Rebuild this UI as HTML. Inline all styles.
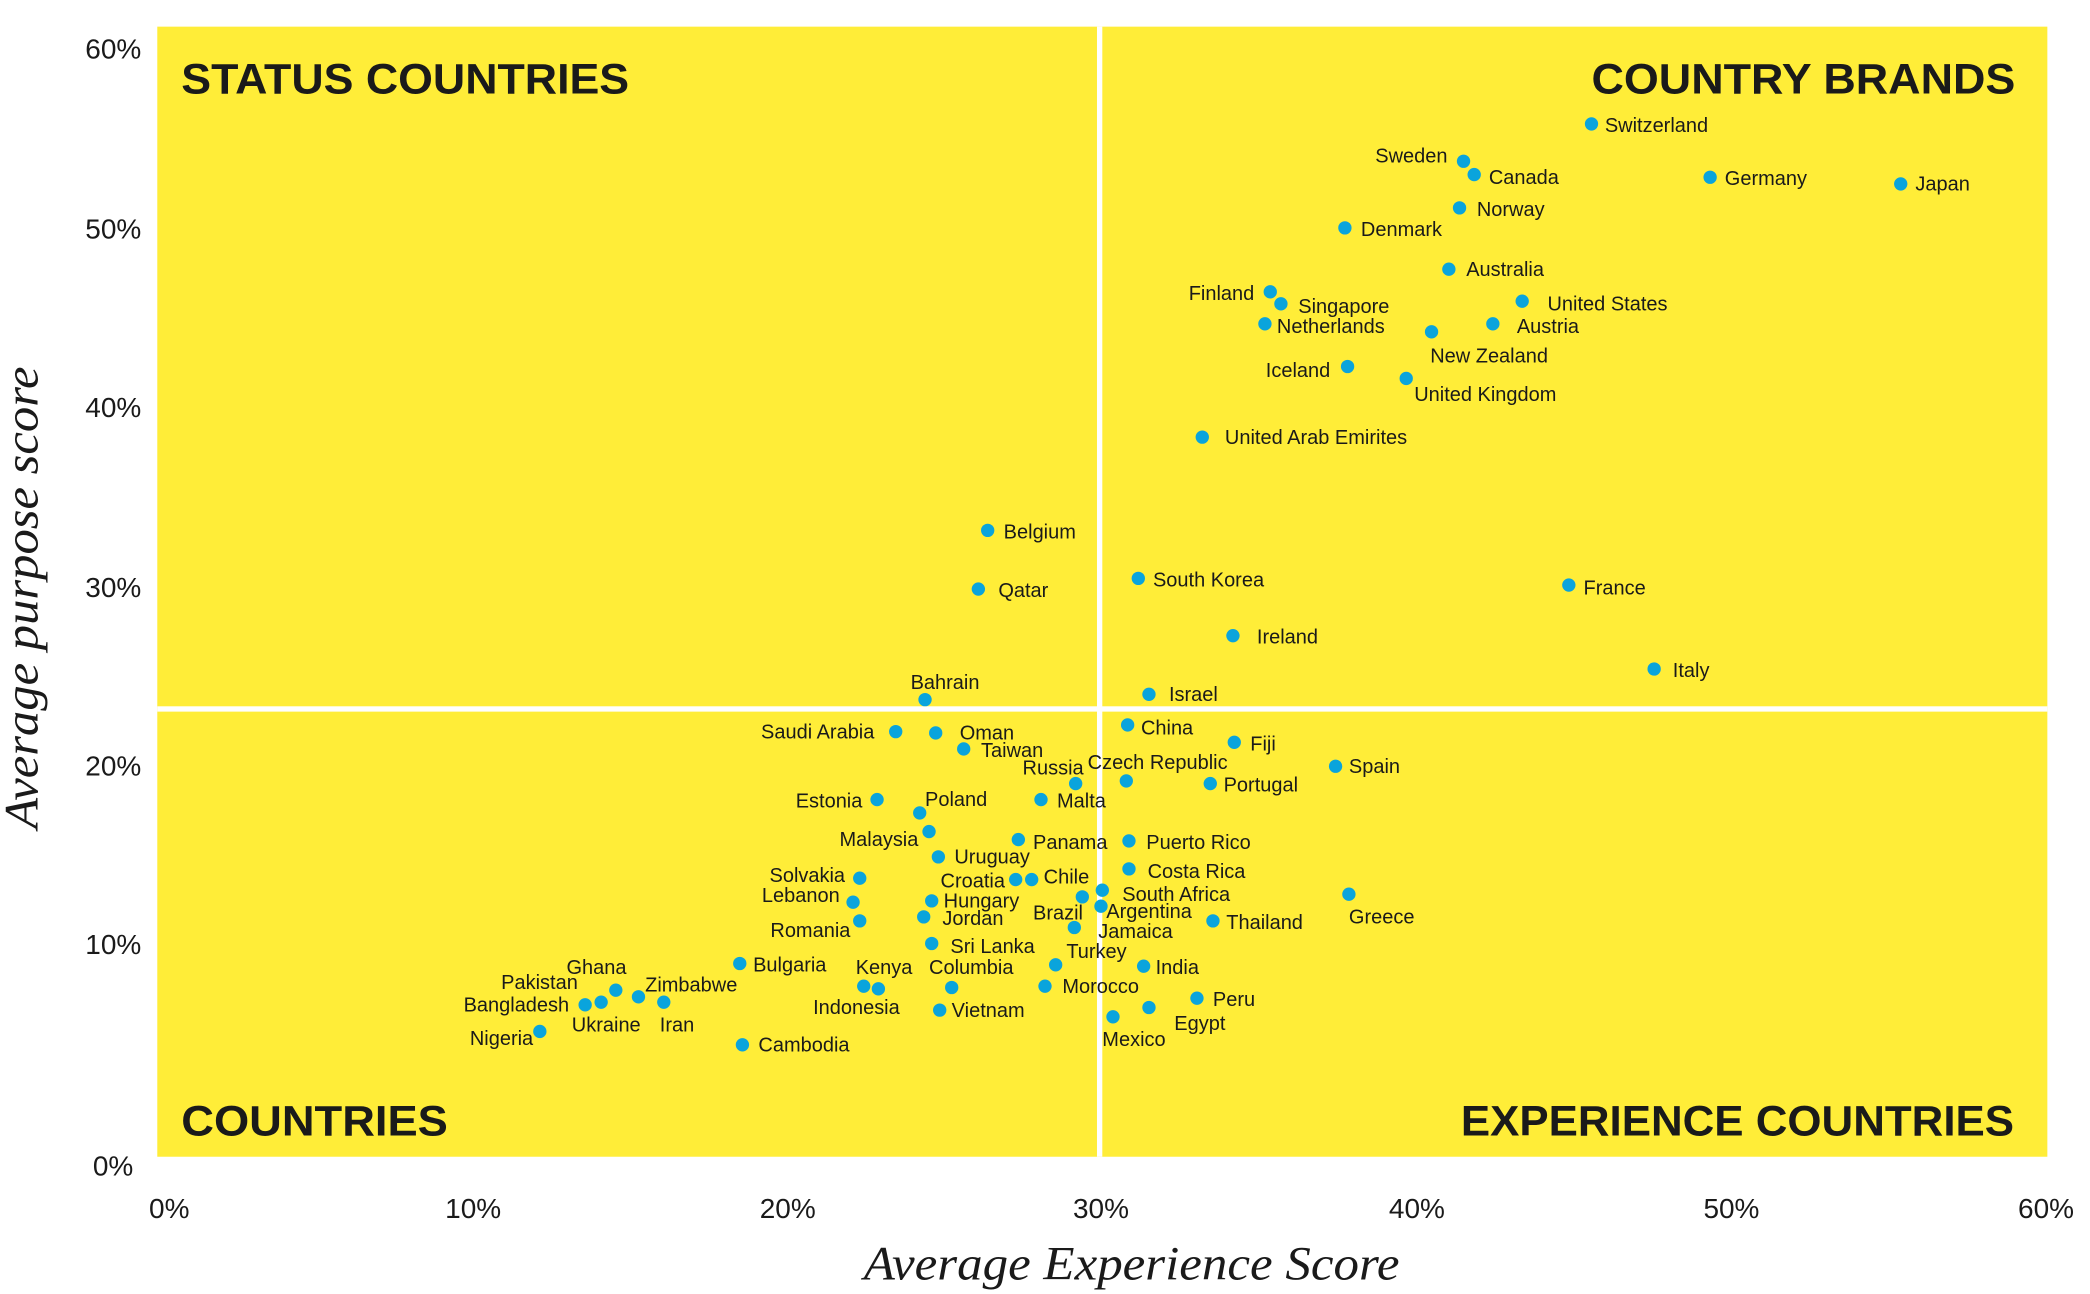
<!DOCTYPE html>
<html><head><meta charset="utf-8"><style>
html,body{margin:0;padding:0;background:#fff;width:2090px;height:1294px;overflow:hidden}
svg{display:block}
.l{font-family:"Liberation Sans",sans-serif;font-size:15px;fill:#1a1a1a}
.e{text-anchor:end}.m{text-anchor:middle}
.q{font-family:"Liberation Sans",sans-serif;font-size:32px;font-weight:bold;fill:#1a1a1a}
.t{font-family:"Liberation Sans",sans-serif;font-size:21px;fill:#1a1a1a}
.a{font-family:"Liberation Serif",serif;font-style:italic;font-size:36px;fill:#1a1a1a}
circle{fill:#0aa4dc}
</style></head><body>
<svg width="2090" height="1294" viewBox="0 0 1568 971" preserveAspectRatio="none">
<rect x="118" y="20" width="1418" height="848" fill="#ffed38"/>
<rect x="823" y="20" width="4" height="848" fill="#fff"/>
<rect x="118" y="530" width="1418" height="4" fill="#fff"/>
<text class="q" x="136" y="70" textLength="336" lengthAdjust="spacingAndGlyphs">STATUS COUNTRIES</text>
<text class="q" x="1194" y="70" textLength="318" lengthAdjust="spacingAndGlyphs">COUNTRY BRANDS</text>
<text class="q" x="136" y="852" textLength="200" lengthAdjust="spacingAndGlyphs">COUNTRIES</text>
<text class="q" x="1096" y="852" textLength="415" lengthAdjust="spacingAndGlyphs">EXPERIENCE COUNTRIES</text>
<g class="t">
<text class="e" x="106" y="44">60%</text><text class="e" x="106" y="179">50%</text><text class="e" x="106" y="313">40%</text><text class="e" x="106" y="448">30%</text><text class="e" x="106" y="582">20%</text><text class="e" x="106" y="716">10%</text><text class="e" x="100" y="882">0%</text>
<text class="m" x="127" y="914">0%</text><text class="m" x="355" y="914">10%</text><text class="m" x="591" y="914">20%</text><text class="m" x="826" y="914">30%</text><text class="m" x="1063" y="914">40%</text><text class="m" x="1299" y="914">50%</text><text class="m" x="1535" y="914">60%</text>
</g>
<text class="a" x="648" y="960" textLength="402" lengthAdjust="spacingAndGlyphs">Average Experience Score</text>
<text class="a" transform="translate(28,622) rotate(-90)" textLength="347" lengthAdjust="spacingAndGlyphs">Average purpose score</text>
<g>
<circle cx="1194" cy="93" r="5"/><circle cx="1098" cy="121" r="5"/><circle cx="1106" cy="131" r="5"/><circle cx="1283" cy="133" r="5"/><circle cx="1426" cy="138" r="5"/><circle cx="1095" cy="156" r="5"/><circle cx="1009" cy="171" r="5"/><circle cx="1087" cy="202" r="5"/><circle cx="953" cy="219" r="5"/><circle cx="961" cy="228" r="5"/><circle cx="1142" cy="226" r="5"/><circle cx="949" cy="243" r="5"/><circle cx="1120" cy="243" r="5"/><circle cx="1074" cy="249" r="5"/><circle cx="1011" cy="275" r="5"/><circle cx="1055" cy="284" r="5"/><circle cx="902" cy="328" r="5"/><circle cx="741" cy="398" r="5"/><circle cx="854" cy="434" r="5"/><circle cx="734" cy="442" r="5"/><circle cx="1177" cy="439" r="5"/><circle cx="925" cy="477" r="5"/><circle cx="1241" cy="502" r="5"/><circle cx="694" cy="525" r="5"/><circle cx="862" cy="521" r="5"/><circle cx="672" cy="549" r="5"/><circle cx="702" cy="550" r="5"/><circle cx="846" cy="544" r="5"/><circle cx="723" cy="562" r="5"/><circle cx="926" cy="557" r="5"/><circle cx="807" cy="588" r="5"/><circle cx="845" cy="586" r="5"/><circle cx="1002" cy="575" r="5"/><circle cx="908" cy="588" r="5"/><circle cx="658" cy="600" r="5"/><circle cx="690" cy="610" r="5"/><circle cx="781" cy="600" r="5"/><circle cx="697" cy="624" r="5"/><circle cx="764" cy="630" r="5"/><circle cx="847" cy="631" r="5"/><circle cx="704" cy="643" r="5"/><circle cx="645" cy="659" r="5"/><circle cx="762" cy="660" r="5"/><circle cx="774" cy="660" r="5"/><circle cx="847" cy="652" r="5"/><circle cx="1012" cy="671" r="5"/><circle cx="640" cy="677" r="5"/><circle cx="699" cy="676" r="5"/><circle cx="812" cy="673" r="5"/><circle cx="827" cy="668" r="5"/><circle cx="826" cy="680" r="5"/><circle cx="645" cy="691" r="5"/><circle cx="693" cy="688" r="5"/><circle cx="910" cy="691" r="5"/><circle cx="806" cy="696" r="5"/><circle cx="699" cy="708" r="5"/><circle cx="792" cy="724" r="5"/><circle cx="555" cy="723" r="5"/><circle cx="648" cy="740" r="5"/><circle cx="659" cy="742" r="5"/><circle cx="714" cy="741" r="5"/><circle cx="858" cy="725" r="5"/><circle cx="462" cy="743" r="5"/><circle cx="451" cy="752" r="5"/><circle cx="479" cy="748" r="5"/><circle cx="439" cy="754" r="5"/><circle cx="498" cy="752" r="5"/><circle cx="784" cy="740" r="5"/><circle cx="705" cy="758" r="5"/><circle cx="898" cy="749" r="5"/><circle cx="835" cy="763" r="5"/><circle cx="862" cy="756" r="5"/><circle cx="405" cy="774" r="5"/><circle cx="557" cy="784" r="5"/>
</g>
<g class="l">
<text x="1204" y="99">Switzerland</text><text class="e" x="1086" y="122">Sweden</text><text x="1117" y="138">Canada</text><text x="1294" y="139">Germany</text><text x="1437" y="143">Japan</text><text x="1108" y="162">Norway</text><text x="1021" y="177">Denmark</text><text x="1100" y="207">Australia</text><text class="e" x="941" y="225">Finland</text><text x="974" y="235">Singapore</text><text x="1161" y="233">United States</text><text x="958" y="250">Netherlands</text><text x="1138" y="250">Austria</text><text x="1073" y="272">New Zealand</text><text class="e" x="998" y="283">Iceland</text><text x="1061" y="301">United Kingdom</text><text x="919" y="333">United Arab Emirites</text><text x="753" y="404">Belgium</text><text x="865" y="440">South Korea</text><text x="749" y="448">Qatar</text><text x="1188" y="446">France</text><text x="943" y="483">Ireland</text><text x="1255" y="508">Italy</text><text class="m" x="709" y="517">Bahrain</text><text x="877" y="526">Israel</text><text class="e" x="656" y="554">Saudi Arabia</text><text x="720" y="555">Oman</text><text x="856" y="551">China</text><text x="736" y="568">Taiwan</text><text x="938" y="563">Fiji</text><text class="e" x="813" y="581">Russia</text><text x="816" y="577">Czech Republic</text><text x="1012" y="580">Spain</text><text x="918" y="594">Portugal</text><text class="e" x="647" y="606">Estonia</text><text x="694" y="605">Poland</text><text x="793" y="606">Malta</text><text class="e" x="689" y="635">Malaysia</text><text x="775" y="637">Panama</text><text x="860" y="637">Puerto Rico</text><text x="716" y="648">Uruguay</text><text class="e" x="634" y="662">Solvakia</text><text class="e" x="754" y="666">Croatia</text><text x="783" y="663">Chile</text><text x="861" y="659">Costa Rica</text><text x="1012" y="693">Greece</text><text class="e" x="630" y="677">Lebanon</text><text x="708" y="681">Hungary</text><text x="842" y="676">South Africa</text><text x="775" y="690">Brazil</text><text x="830" y="689">Argentina</text><text class="e" x="638" y="703">Romania</text><text x="707" y="694">Jordan</text><text x="920" y="697">Thailand</text><text x="824" y="704">Jamaica</text><text x="713" y="715">Sri Lanka</text><text x="800" y="719">Turkey</text><text x="565" y="729">Bulgaria</text><text x="642" y="731">Kenya</text><text x="697" y="731">Columbia</text><text x="867" y="731">India</text><text x="425" y="731">Ghana</text><text x="376" y="742">Pakistan</text><text x="484" y="744">Zimbabwe</text><text class="e" x="427" y="759">Bangladesh</text><text x="429" y="774">Ukraine</text><text x="495" y="774">Iran</text><text x="797" y="745">Morocco</text><text x="610" y="761">Indonesia</text><text x="714" y="763">Vietnam</text><text x="910" y="755">Peru</text><text x="827" y="785">Mexico</text><text x="881" y="773">Egypt</text><text class="e" x="400" y="784">Nigeria</text><text x="569" y="789">Cambodia</text>
</g>
</svg>
</body></html>
